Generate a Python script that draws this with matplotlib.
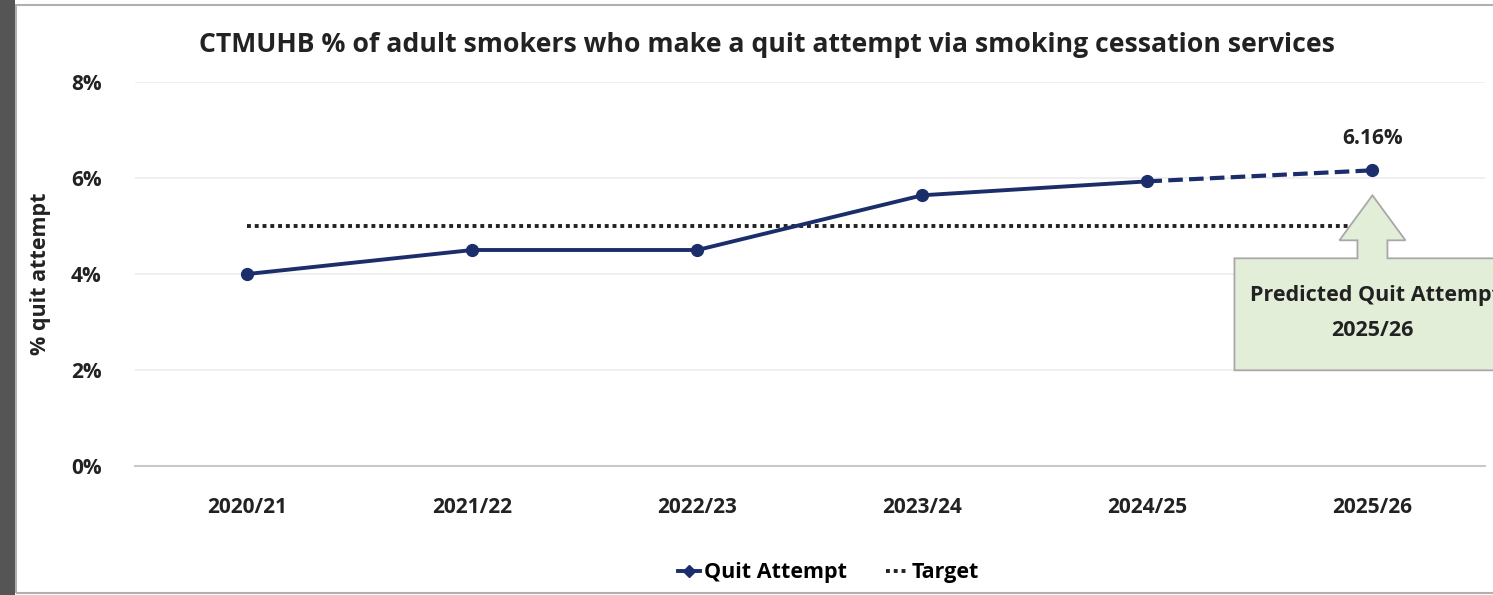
import matplotlib.pyplot as plt
import matplotlib.transforms as transforms
from matplotlib.patches import Polygon, Rectangle
from matplotlib.ticker import FuncFormatter

plt.rcParams["font.family"] = ["Open Sans", "DejaVu Sans"]
plt.rcParams["font.weight"] = "bold"

years = ["2020/21", "2021/22", "2022/23", "2023/24", "2024/25", "2025/26"]
quit_attempt = [4.00, 4.50, 4.50, 5.64, 5.93]
predicted = 6.16
target = [5.0, 5.0, 5.0, 5.0, 5.0, 5.0]

NAVY = "#1b2e6b"
TEXT = "#222222"

fig = plt.figure(figsize=(14.93, 5.95), dpi=100)
ax = fig.add_axes([0.0904, 0.2168, 0.9042, 0.6454])

# 外框：左侧深灰条 + 浅灰边线
fig.patches.append(Rectangle((0, 0), 0.0100, 1, transform=fig.transFigure, facecolor="#555555", edgecolor="none"))
fig.patches.append(Rectangle((0.0107, 0.004), 0.995, 0.987, transform=fig.transFigure,
                             facecolor="none", edgecolor="#b0b0b0", linewidth=1.5))

x = list(range(len(years)))

ax.plot(x, target, color=TEXT, linestyle=(0, (1, 1.0)), linewidth=2.8, zorder=2)
ax.plot(x[:len(quit_attempt)], quit_attempt, color=NAVY, linewidth=2.8, marker="o",
        markersize=8.5, zorder=3)
ax.plot(x[len(quit_attempt) - 1:], [quit_attempt[-1], predicted], color=NAVY, linewidth=3.0,
        linestyle=(0, (3.5, 1.5)), marker="o", markersize=8.5, markevery=[1], zorder=3)

ax.annotate(f"{predicted:.2f}%", (x[-1], predicted), xytext=(0, 15), textcoords="offset points",
            ha="center", va="bottom", fontsize=15, color=TEXT)

# 预测值下方的箭头标注框
tr = fig.dpi_scale_trans + transforms.ScaledTranslation(x[-1], predicted, ax.transData)
shape = [(0, -0.25), (0.33, -0.70), (0.15, -0.70), (0.15, -0.88), (1.40, -0.88), (1.40, -2.00),
         (-1.38, -2.00), (-1.38, -0.88), (-0.15, -0.88), (-0.15, -0.70), (-0.33, -0.70)]
ax.add_patch(Polygon(shape, closed=True, transform=tr, facecolor="#e3eed9", edgecolor="#a8a8a8",
                     linewidth=1.3, zorder=4, clip_on=False))
ax.text(0.03, -1.25, "Predicted Quit Attempt", transform=tr, ha="center", va="center", fontsize=15.5,
        color=TEXT, zorder=5, clip_on=False)
ax.text(0, -1.60, "2025/26", transform=tr, ha="center", va="center", fontsize=15.5,
        color=TEXT, zorder=5)

ax.set_xlim(-0.5, len(years) - 0.5)
ax.set_ylim(0, 8)
ax.set_yticks([0, 2, 4, 6, 8])
ax.yaxis.set_major_formatter(FuncFormatter(lambda v, p: f"{v:.0f}%"))
ax.set_xticks(x)
ax.set_xticklabels(years)
ax.tick_params(axis="both", length=0, labelsize=15, colors=TEXT)
ax.tick_params(axis="x", pad=22)
ax.tick_params(axis="y", pad=24)
ax.grid(axis="y", color="#ececec", linewidth=1.2)
ax.set_axisbelow(True)
for side in ["top", "right", "left"]:
    ax.spines[side].set_visible(False)
ax.spines["bottom"].set_color("#c8c8c8")
ax.spines["bottom"].set_linewidth(1.5)

ax.set_ylabel("% quit attempt", fontsize=15.5, color=TEXT, labelpad=14, fontweight="bold")
fig.text(0.514, 0.925, "CTMUHB % of adult smokers who make a quit attempt via smoking cessation services",
         ha="center", va="center", fontsize=19.2, color=TEXT)

h1, = ax.plot([], [], color=NAVY, linewidth=2.8, marker="D", markersize=6)
h2, = ax.plot([], [], color=TEXT, linestyle=(0, (1, 1.0)), linewidth=2.8)
fig.legend([h1, h2], ["Quit Attempt", "Target"], loc="center", bbox_to_anchor=(0.555, 0.037), ncol=2,
           frameon=False, fontsize=15.5, handlelength=1.0, handletextpad=0.2, columnspacing=1.8)

fig.savefig("out.png", dpi=100)
